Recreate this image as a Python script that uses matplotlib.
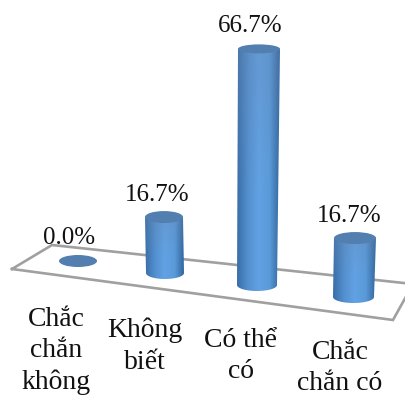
import numpy as np
import matplotlib
matplotlib.use('Agg')
import matplotlib.pyplot as plt
from matplotlib.patches import Ellipse, PathPatch
from matplotlib.path import Path
from matplotlib.colors import LinearSegmentedColormap

categories = ['Chắc\nchắn\nkhông', 'Không\nbiết', 'Có thể\ncó', 'Chắc\nchắn có']
values = [0.0, 16.7, 66.7, 16.7]

# floor position of each column and how far one percent rises there
base_x = [78, 165, 257, 353.5]
base_y = [261, 273, 285, 297]
px_per_pct = [3.35, 3.35, 3.54, 3.53]
base_rx = [19, 19, 20, 20.5]
base_ry = [6, 6, 6, 6]

# the perspective leans the tops a little and widens them
lean_per_pct = [0, -0.06, 0.03, 0.09]
top_rx = [19, 19, 21, 21]
top_ry = [6, 6, 4.5, 6]

# label anchors
value_label_x = [69, 157, 250, 349]
value_label_y = [238, 195, 26, 216]
cat_label_x = [56, 145, 241, 340]
cat_label_y = [351, 346, 356, 368]

floor_x = [12, 52, 413, 393, 12]
floor_y = [269, 245, 284, 320, 269]

side_cmap = LinearSegmentedColormap.from_list(
    'side', ['#3a6fa8', '#5490cf', '#62a2e4', '#5a9ad9', '#2f6299'])
top_color = '#527fb0'
wash_color = np.array([0.42, 0.53, 0.68])


def draw_column(ax, i):
    cx, cy = base_x[i], base_y[i]
    rx, ry = base_rx[i], base_ry[i]
    tx = cx + values[i] * lean_per_pct[i]
    ty = cy - values[i] * px_per_pct[i]
    trx, try_ = top_rx[i], top_ry[i]
    if values[i] > 0:
        # side wall: horizontal gradient, greyer towards the top, clipped to the outline
        t = np.linspace(0, np.pi, 40)
        verts = [(tx - trx, ty)] + [(cx - rx * np.cos(a), cy + ry * np.sin(a)) for a in t] + [(tx + trx, ty), (tx - trx, ty)]
        codes = [Path.MOVETO] + [Path.LINETO] * (len(verts) - 2) + [Path.CLOSEPOLY]
        clip = PathPatch(Path(verts, codes), facecolor='none', edgecolor='none', transform=ax.transData)
        ax.add_patch(clip)
        rgb = side_cmap(np.linspace(0, 1, 64))[:, :3][np.newaxis, :, :]
        wash = (0.3 * np.clip(1 - np.linspace(0, 1, 64) / 0.6, 0, 1))[:, np.newaxis, np.newaxis]
        shaded = rgb * (1 - wash) + wash_color * wash
        left = min(cx - rx, tx - trx)
        right = max(cx + rx, tx + trx)
        im = ax.imshow(shaded, extent=[left, right, cy + ry, ty], aspect='auto', zorder=3)
        im.set_clip_path(clip)
    ax.add_patch(Ellipse((tx, ty), 2 * trx, 2 * try_, facecolor=top_color, edgecolor='none', zorder=4))


fig = plt.figure(figsize=(4.06, 3.96), dpi=100)
ax = fig.add_axes([0, 0, 1, 1])
ax.axis('off')

ax.plot(floor_x, floor_y, color='#a0a0a0', lw=1.9, zorder=1, solid_joinstyle='miter')

for i in range(len(values)):
    draw_column(ax, i)
    ax.text(value_label_x[i], value_label_y[i], f'{values[i]:.1f}%', ha='center', va='center',
            fontsize=18, family='Liberation Serif', color='#111111', zorder=5)
    ax.text(cat_label_x[i], cat_label_y[i], categories[i], ha='center', va='center',
            fontsize=20, family='Liberation Serif', color='#111111', linespacing=1.35, zorder=5)

ax.set_xlim(0, 406)
ax.set_ylim(396, 0)
fig.savefig('out.png', dpi=100)
